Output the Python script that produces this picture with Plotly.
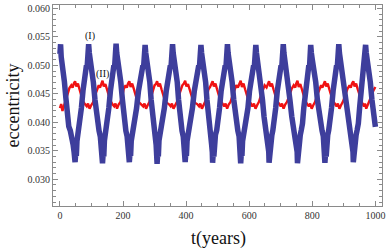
import plotly.graph_objects as go

# Series (I): time (years) and eccentricity (one row per cycle)
t_I = [0, 2, 4, 7, 10, 14, 19, 24, 28, 33, 38, 42, 45,
       48, 50, 52, 54, 57, 60, 64, 68, 73, 77, 81, 84, 86, 88, 91, 93, 96, 99, 102, 106, 111, 116, 120, 124, 128, 131, 133,
       135, 137, 139, 141, 144, 147, 151, 155, 160, 164, 168, 171, 173, 175, 178, 180, 183, 186, 189, 193, 198, 202, 206, 209, 213, 216, 218,
       220, 222, 224, 226, 229, 233, 238, 243, 249, 254, 259, 263, 265, 267, 270, 272, 275, 278, 281, 285, 289, 293, 296, 299, 302, 305, 307,
       308, 310, 312, 314, 317, 321, 326, 331, 337, 342, 346, 350, 352, 354, 357, 359, 362, 365, 368, 372, 376, 380, 384, 387, 391, 394, 396,
       397, 399, 401, 403, 406, 410, 415, 420, 426, 431, 436, 440, 442, 444, 447, 449, 452, 455, 458, 462, 466, 470, 473, 476, 479, 481, 483,
       484, 486, 488, 490, 493, 497, 501, 506, 511, 516, 520, 524, 526, 528, 531, 533, 536, 539, 542, 546, 551, 556, 560, 564, 568, 570, 572,
       573, 575, 577, 579, 582, 586, 591, 596, 601, 606, 611, 614, 616, 618, 621, 623, 626, 629, 632, 637, 642, 647, 651, 655, 658, 660, 662,
       663, 665, 667, 669, 672, 675, 679, 684, 689, 694, 698, 701, 703, 705, 708, 710, 713, 716, 719, 724, 729, 735, 740, 744, 748, 750, 752,
       753, 755, 757, 759, 762, 765, 769, 773, 778, 782, 786, 789, 791, 793, 795, 797, 800, 803, 806, 811, 816, 822, 827, 831, 835, 837, 839,
       840, 842, 844, 846, 849, 852, 856, 861, 866, 870, 874, 877, 879, 881, 884, 886, 889, 892, 895, 900, 906, 912, 917, 921, 925, 927, 929,
       930, 932, 934, 936, 939, 942, 946, 950, 955, 959, 962, 964, 966, 967, 969, 971, 974, 977, 980, 984, 989, 994, 1000]
e_I = [0.0520, 0.0537, 0.0515, 0.0505, 0.0497, 0.0472, 0.0442, 0.0412, 0.0393, 0.0385, 0.0375, 0.0360, 0.0347,
       0.0330, 0.0346, 0.0341, 0.0367, 0.0378, 0.0386, 0.0398, 0.0425, 0.0455, 0.0478, 0.0488, 0.0500, 0.0495, 0.0524, 0.0537, 0.0522, 0.0510, 0.0502, 0.0495, 0.0470, 0.0440, 0.0410, 0.0392, 0.0385, 0.0375, 0.0360, 0.0348,
       0.0328, 0.0346, 0.0340, 0.0368, 0.0378, 0.0386, 0.0398, 0.0425, 0.0455, 0.0478, 0.0488, 0.0500, 0.0494, 0.0525, 0.0538, 0.0522, 0.0510, 0.0502, 0.0495, 0.0470, 0.0440, 0.0410, 0.0392, 0.0385, 0.0375, 0.0360, 0.0348,
       0.0330, 0.0346, 0.0341, 0.0367, 0.0378, 0.0386, 0.0398, 0.0425, 0.0455, 0.0478, 0.0488, 0.0500, 0.0495, 0.0524, 0.0536, 0.0522, 0.0510, 0.0502, 0.0495, 0.0470, 0.0440, 0.0410, 0.0392, 0.0385, 0.0375, 0.0360, 0.0345,
       0.0327, 0.0346, 0.0340, 0.0368, 0.0378, 0.0386, 0.0398, 0.0425, 0.0455, 0.0478, 0.0488, 0.0500, 0.0495, 0.0525, 0.0537, 0.0522, 0.0510, 0.0502, 0.0495, 0.0470, 0.0440, 0.0410, 0.0392, 0.0385, 0.0375, 0.0360, 0.0348,
       0.0330, 0.0346, 0.0341, 0.0367, 0.0378, 0.0386, 0.0398, 0.0425, 0.0455, 0.0478, 0.0488, 0.0500, 0.0495, 0.0524, 0.0536, 0.0522, 0.0510, 0.0502, 0.0495, 0.0470, 0.0440, 0.0410, 0.0392, 0.0385, 0.0375, 0.0360, 0.0348,
       0.0329, 0.0346, 0.0340, 0.0368, 0.0378, 0.0386, 0.0398, 0.0425, 0.0455, 0.0478, 0.0488, 0.0500, 0.0494, 0.0525, 0.0537, 0.0522, 0.0510, 0.0502, 0.0495, 0.0470, 0.0440, 0.0410, 0.0392, 0.0385, 0.0375, 0.0360, 0.0348,
       0.0328, 0.0346, 0.0341, 0.0367, 0.0378, 0.0386, 0.0398, 0.0425, 0.0455, 0.0478, 0.0488, 0.0500, 0.0495, 0.0524, 0.0536, 0.0522, 0.0510, 0.0502, 0.0495, 0.0470, 0.0440, 0.0410, 0.0392, 0.0385, 0.0375, 0.0360, 0.0348,
       0.0329, 0.0346, 0.0340, 0.0368, 0.0378, 0.0386, 0.0398, 0.0425, 0.0455, 0.0478, 0.0488, 0.0500, 0.0495, 0.0525, 0.0537, 0.0522, 0.0510, 0.0502, 0.0495, 0.0470, 0.0440, 0.0410, 0.0392, 0.0385, 0.0375, 0.0360, 0.0348,
       0.0328, 0.0346, 0.0341, 0.0367, 0.0378, 0.0386, 0.0398, 0.0425, 0.0455, 0.0478, 0.0488, 0.0500, 0.0495, 0.0524, 0.0536, 0.0522, 0.0510, 0.0502, 0.0495, 0.0470, 0.0440, 0.0410, 0.0392, 0.0385, 0.0375, 0.0360, 0.0348,
       0.0329, 0.0346, 0.0340, 0.0368, 0.0378, 0.0386, 0.0398, 0.0425, 0.0455, 0.0478, 0.0488, 0.0500, 0.0495, 0.0525, 0.0537, 0.0522, 0.0510, 0.0502, 0.0495, 0.0470, 0.0440, 0.0410, 0.0392, 0.0385, 0.0375, 0.0360, 0.0348,
       0.0330, 0.0346, 0.0341, 0.0367, 0.0378, 0.0386, 0.0398, 0.0425, 0.0455, 0.0478, 0.0488, 0.0500, 0.0495, 0.0524, 0.0536, 0.0522, 0.0510, 0.0502, 0.0495, 0.0470, 0.0440, 0.0415, 0.0392]

# Series (II)
t_II = [0, 4, 8, 13, 18, 24, 30, 36, 40,
        44, 48, 52, 57, 62, 67, 73, 79, 85, 89, 94, 99, 105, 111, 117, 123, 127,
        131, 135, 139, 144, 149, 154, 160, 166, 172, 176, 181, 186, 192, 198, 202, 208, 212,
        216, 220, 224, 229, 234, 239, 245, 251, 258, 264, 268, 273, 278, 284, 290, 296, 300,
        304, 308, 312, 317, 322, 327, 333, 339, 345, 351, 355, 360, 365, 371, 377, 383, 388,
        393, 397, 401, 406, 411, 416, 422, 429, 435, 441, 445, 450, 455, 461, 466, 471, 476,
        480, 484, 488, 493, 498, 503, 509, 515, 521, 525, 530, 535, 541, 547, 553, 559, 564,
        569, 573, 577, 582, 587, 592, 598, 604, 610, 615, 620, 625, 631, 637, 643, 649, 655,
        659, 663, 667, 672, 677, 682, 688, 694, 700, 704, 709, 714, 720, 727, 734, 741, 746,
        749, 753, 757, 762, 767, 772, 778, 784, 789, 793, 798, 803, 809, 815, 822, 828, 832,
        836, 840, 844, 849, 854, 859, 865, 871, 877, 881, 886, 891, 897, 904, 911, 918, 922,
        926, 930, 934, 939, 944, 949, 954, 959, 964, 967, 971, 976, 982, 988, 994, 1000]
e_II = [0.0425, 0.0432, 0.0420, 0.0430, 0.0440, 0.0450, 0.0460, 0.0465, 0.0461,
        0.0468, 0.0472, 0.0463, 0.0468, 0.0458, 0.0450, 0.0437, 0.0432, 0.0428, 0.0433, 0.0424, 0.0430, 0.0435, 0.0447, 0.0458, 0.0465, 0.0461,
        0.0469, 0.0473, 0.0463, 0.0467, 0.0458, 0.0449, 0.0438, 0.0432, 0.0428, 0.0433, 0.0424, 0.0431, 0.0436, 0.0447, 0.0458, 0.0465, 0.0461,
        0.0468, 0.0472, 0.0462, 0.0468, 0.0459, 0.0450, 0.0438, 0.0435, 0.0432, 0.0428, 0.0433, 0.0424, 0.0430, 0.0436, 0.0447, 0.0460, 0.0465,
        0.0467, 0.0472, 0.0463, 0.0468, 0.0458, 0.0450, 0.0438, 0.0434, 0.0432, 0.0428, 0.0433, 0.0424, 0.0430, 0.0436, 0.0447, 0.0458, 0.0465,
        0.0468, 0.0473, 0.0463, 0.0467, 0.0458, 0.0450, 0.0438, 0.0434, 0.0432, 0.0428, 0.0433, 0.0424, 0.0430, 0.0437, 0.0447, 0.0458, 0.0462,
        0.0468, 0.0472, 0.0463, 0.0468, 0.0458, 0.0450, 0.0438, 0.0433, 0.0428, 0.0433, 0.0424, 0.0431, 0.0436, 0.0447, 0.0458, 0.0465, 0.0461,
        0.0468, 0.0473, 0.0462, 0.0468, 0.0458, 0.0450, 0.0438, 0.0434, 0.0428, 0.0433, 0.0424, 0.0430, 0.0436, 0.0447, 0.0458, 0.0465, 0.0461,
        0.0468, 0.0472, 0.0463, 0.0468, 0.0458, 0.0450, 0.0438, 0.0433, 0.0428, 0.0433, 0.0424, 0.0431, 0.0436, 0.0447, 0.0458, 0.0465, 0.0461,
        0.0468, 0.0473, 0.0462, 0.0467, 0.0458, 0.0449, 0.0437, 0.0432, 0.0428, 0.0433, 0.0424, 0.0430, 0.0436, 0.0447, 0.0458, 0.0465, 0.0461,
        0.0468, 0.0472, 0.0463, 0.0468, 0.0458, 0.0450, 0.0438, 0.0433, 0.0428, 0.0433, 0.0424, 0.0430, 0.0436, 0.0447, 0.0458, 0.0465, 0.0461,
        0.0468, 0.0472, 0.0463, 0.0468, 0.0458, 0.0450, 0.0438, 0.0433, 0.0428, 0.0433, 0.0424, 0.0430, 0.0437, 0.0447, 0.0456, 0.0462]

x_ticks = [0, 200, 400, 600, 800, 1000]
y_ticks = [0.030, 0.035, 0.040, 0.045, 0.050, 0.055, 0.060]
label_I = "(I)"
label_II = "(II)"
x_title = "t(years)"
y_title = "eccentricity"

SERIF = "Liberation Serif, Times New Roman, serif"
FRAME = "#8a8a8a"

fig = go.Figure()
fig.add_trace(go.Scatter(x=t_II, y=e_II, mode="lines",
                         line=dict(color="rgb(240,18,18)", width=2.4),
                         showlegend=False, hoverinfo="skip"))
fig.add_trace(go.Scatter(x=t_I, y=e_I, mode="lines",
                         line=dict(color="rgb(62,62,156)", width=5.5),
                         showlegend=False, hoverinfo="skip"))

axis_common = dict(showgrid=False, zeroline=False, showline=True, linecolor=FRAME,
                   linewidth=1, mirror="allticks", ticks="inside", tickcolor=FRAME,
                   ticklen=5, tickwidth=1,
                   tickfont=dict(family=SERIF, size=10, color="#333333"))

fig.update_xaxes(range=[-22, 1021], tickvals=x_ticks,
                 ticktext=[str(v) for v in x_ticks],
                 minor=dict(dtick=50, tick0=0, ticks="inside", ticklen=3,
                            tickcolor=FRAME, showgrid=False),
                 **axis_common)
fig.update_yaxes(range=[0.0253, 0.0606], tickvals=y_ticks,
                 ticktext=["%.3f" % v for v in y_ticks],
                 minor=dict(dtick=0.001, tick0=0.030, ticks="inside", ticklen=3,
                            tickcolor=FRAME, showgrid=False),
                 **axis_common)

fig.add_annotation(x=95, y=0.0551, text=label_I, showarrow=False,
                   font=dict(family=SERIF, size=10, color="#111111"))
fig.add_annotation(x=135, y=0.0485, text=label_II, showarrow=False,
                   font=dict(family=SERIF, size=10, color="#111111"))
fig.add_annotation(xref="paper", yref="paper", x=0.503, y=-0.163, text=x_title,
                   showarrow=False, xanchor="center", yanchor="middle",
                   font=dict(family=SERIF, size=18, color="#111111"))
fig.add_annotation(xref="paper", yref="paper", x=-0.123, y=0.4975, text=y_title,
                   showarrow=False, textangle=-90, xanchor="center", yanchor="middle",
                   font=dict(family=SERIF, size=18, color="#111111"))

fig.update_layout(width=388, height=249,
                  margin=dict(l=53, r=5, t=3, b=43, pad=0),
                  paper_bgcolor="white", plot_bgcolor="white")

fig.write_html("out.html", config={"displayModeBar": False},
               post_script="document.body.style.margin='0px';")
